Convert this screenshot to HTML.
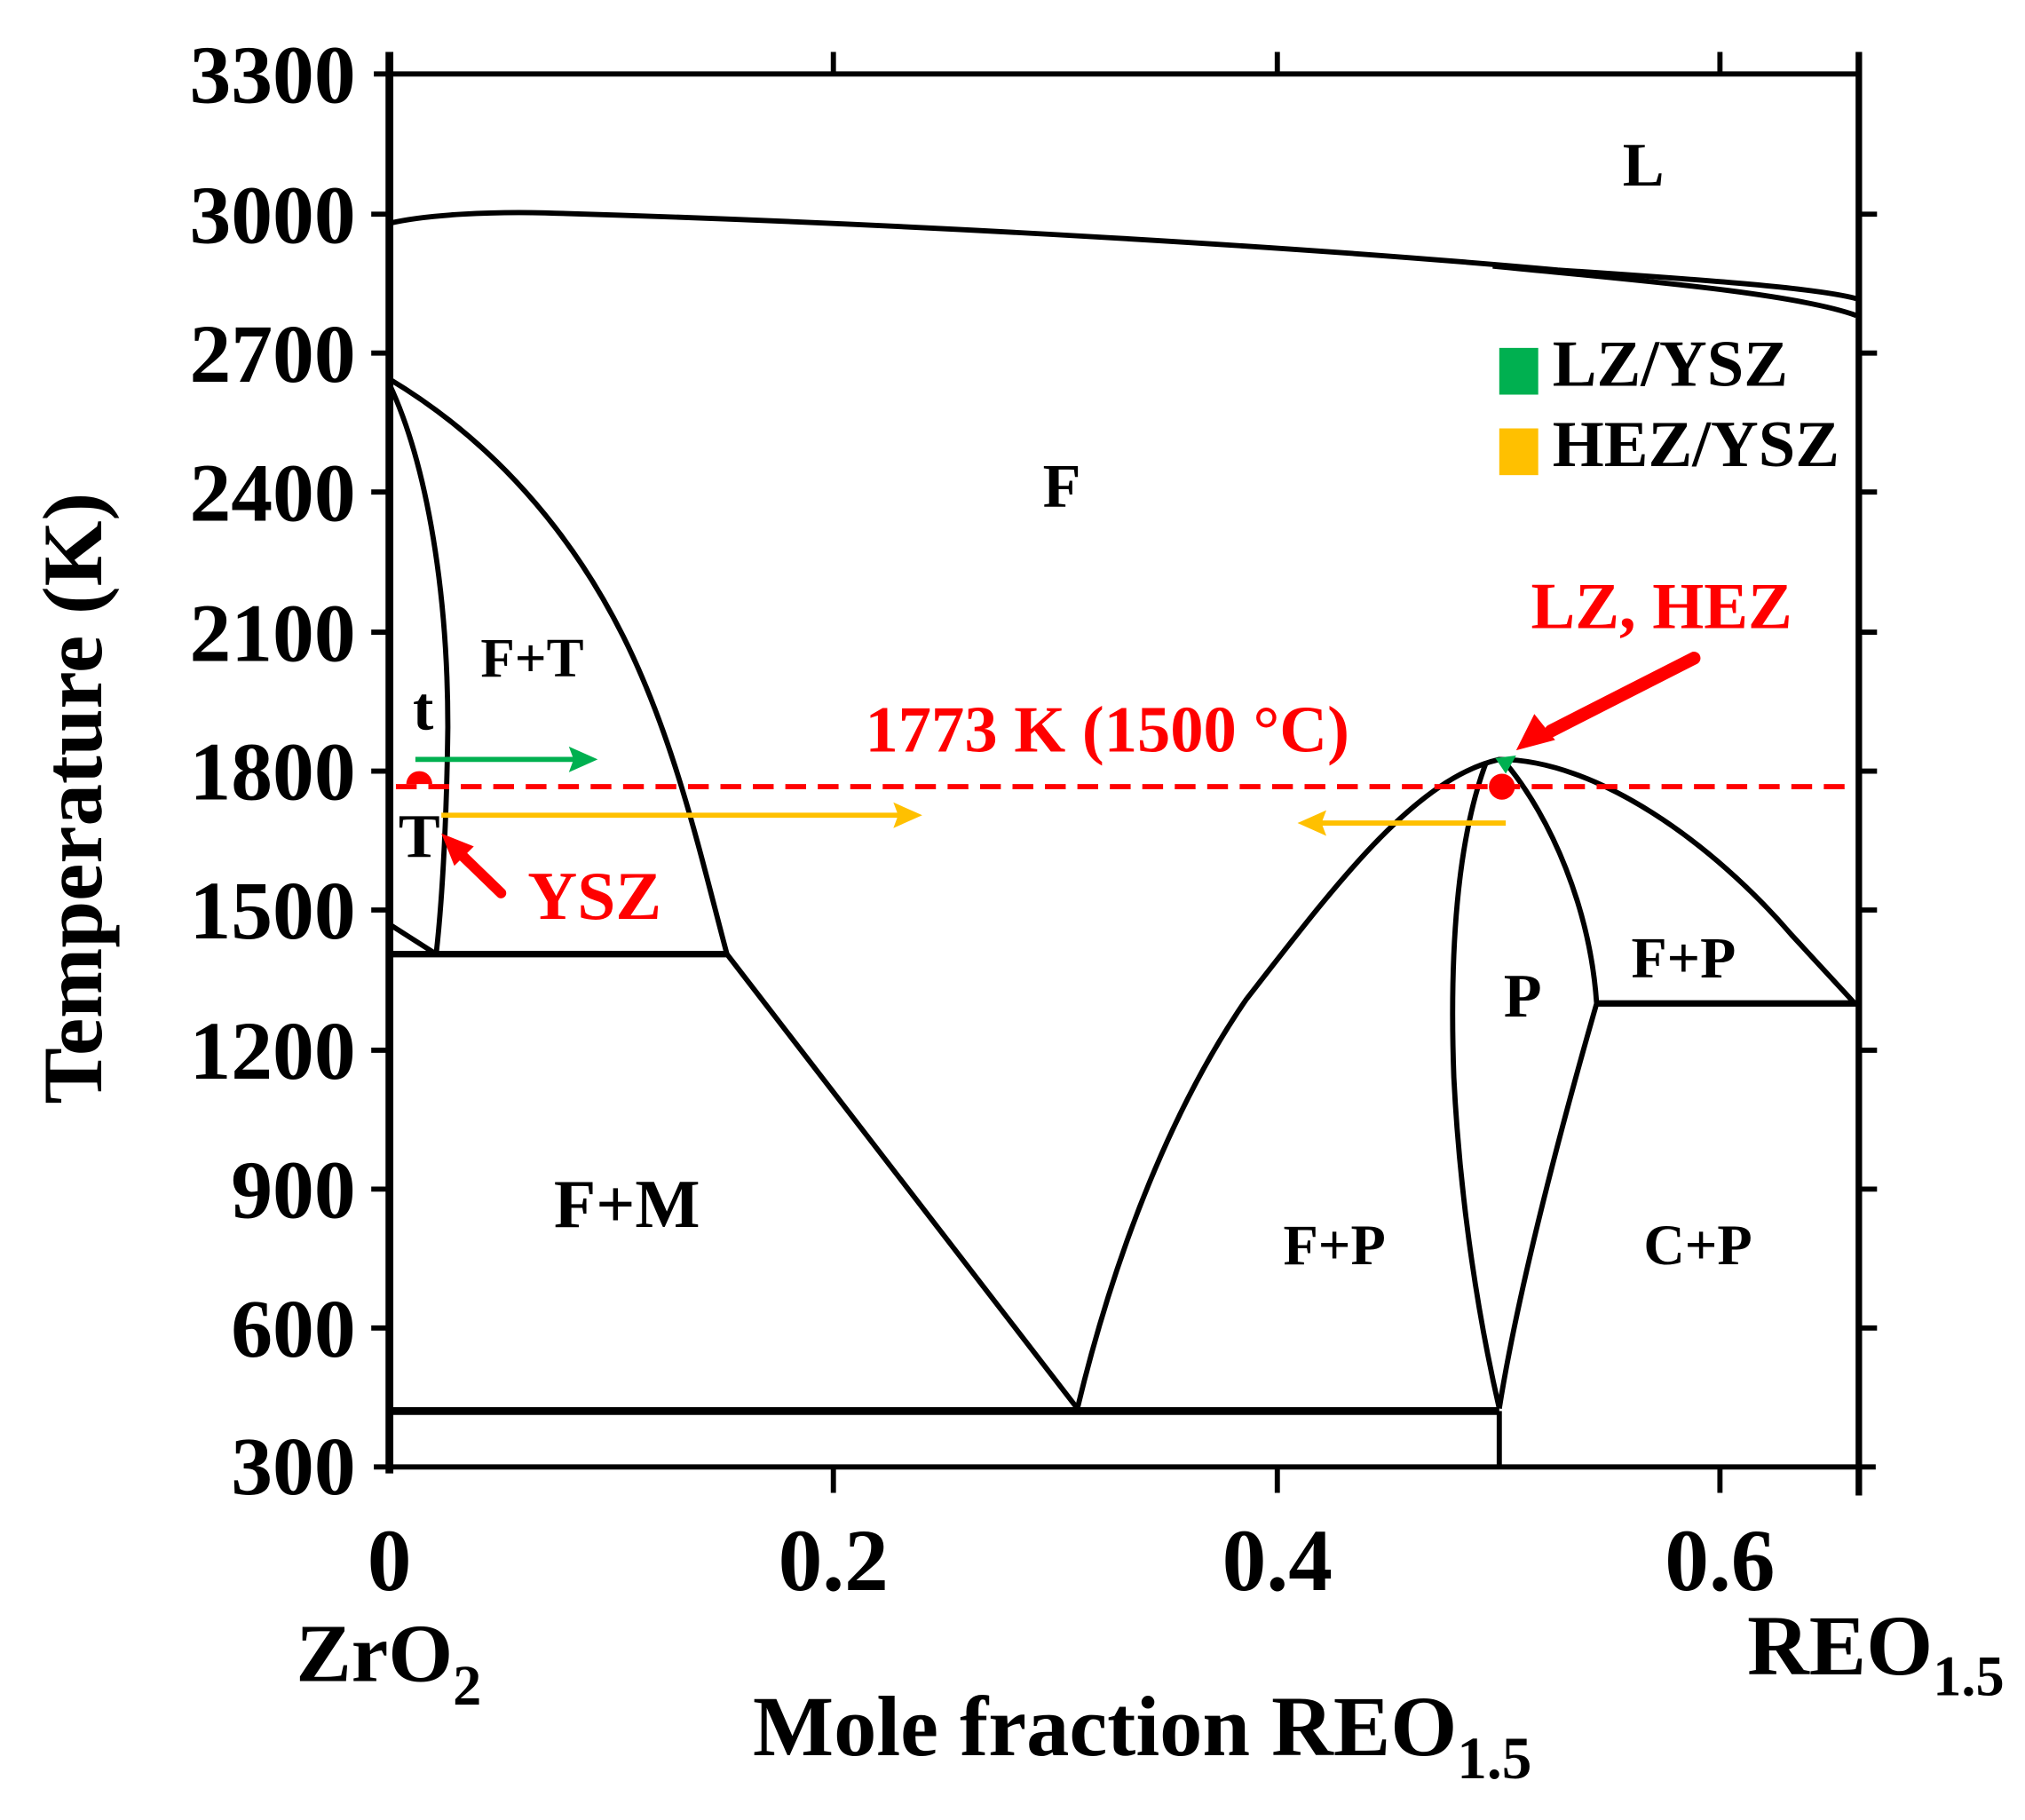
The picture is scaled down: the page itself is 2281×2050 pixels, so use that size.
<!DOCTYPE html>
<html><head><style>html,body{margin:0;padding:0;background:#fff}svg{display:block}</style></head>
<body>
<svg width="2281" height="2050" viewBox="0 0 1560 1402" preserveAspectRatio="none" xmlns="http://www.w3.org/2000/svg" font-family="'Liberation Serif',serif" font-weight="bold">
<rect width="1560" height="1402" fill="#fff"/>
<g stroke="#000" fill="none" stroke-linecap="butt">
<line x1="300" y1="40" x2="300" y2="1135" stroke-width="6"/>
<line x1="1432" y1="40" x2="1432" y2="1152" stroke-width="5"/>
<line x1="288" y1="57" x2="1432" y2="57" stroke-width="4"/>
<line x1="288" y1="1130" x2="1445" y2="1130" stroke-width="4"/>
<g stroke-width="4">
<line x1="286" y1="165" x2="300" y2="165"/><line x1="286" y1="272" x2="300" y2="272"/><line x1="286" y1="379" x2="300" y2="379"/><line x1="286" y1="487" x2="300" y2="487"/><line x1="286" y1="594" x2="300" y2="594"/><line x1="286" y1="701" x2="300" y2="701"/><line x1="286" y1="809" x2="300" y2="809"/><line x1="286" y1="916" x2="300" y2="916"/><line x1="286" y1="1023" x2="300" y2="1023"/>
<line x1="1432" y1="165" x2="1446" y2="165"/><line x1="1432" y1="272" x2="1446" y2="272"/><line x1="1432" y1="379" x2="1446" y2="379"/><line x1="1432" y1="487" x2="1446" y2="487"/><line x1="1432" y1="594" x2="1446" y2="594"/><line x1="1432" y1="701" x2="1446" y2="701"/><line x1="1432" y1="809" x2="1446" y2="809"/><line x1="1432" y1="916" x2="1446" y2="916"/><line x1="1432" y1="1023" x2="1446" y2="1023"/>
<line x1="642" y1="1130" x2="642" y2="1150"/><line x1="984" y1="1130" x2="984" y2="1150"/><line x1="1325" y1="1130" x2="1325" y2="1150"/>
<line x1="642" y1="40" x2="642" y2="57"/><line x1="984" y1="40" x2="984" y2="57"/><line x1="1325" y1="40" x2="1325" y2="57"/>
</g>
<g stroke-width="4">
<path d="M300,172 C330,165 380,163 420,164 C700,172 1000,190 1200,208 C1320,216 1400,222 1430,230"/>
<path d="M1150,205 C1250,215 1380,225 1430,243"/>
<path d="M300,292 C380,340 440,410 480,490 C520,570 540,660 560,735"/>
<path d="M300,296 C330,360 345,460 345,560 C344,640 340,700 336,735"/>
<path d="M300,712 L336,735"/>
<line x1="300" y1="735" x2="560" y2="735" stroke-width="5"/>
<path d="M560,735 L830,1085"/>
<line x1="300" y1="1087" x2="1155" y2="1087" stroke-width="6"/>
<line x1="1155" y1="1087" x2="1155" y2="1130"/>
<path d="M830,1085 C860,960 905,850 960,770 C1030,680 1090,600 1155,585 C1230,585 1320,650 1380,720 L1428,772"/>
<line x1="1230" y1="773" x2="1432" y2="773" stroke-width="5"/>
<path d="M1155,1085 C1140,1020 1125,930 1120,830 C1116,720 1125,640 1145,587"/>
<path d="M1155,1085 C1170,990 1205,860 1230,773 C1225,700 1195,630 1160,588"/>
</g>
</g>
<line x1="305" y1="606" x2="1430" y2="606" stroke="#f00" stroke-width="4" stroke-dasharray="16,9"/>
<g stroke-width="4">
<line x1="320" y1="585" x2="448" y2="585" stroke="#00b050"/><path d="M458,585 L440,577 L443,585 L440,593Z" fill="#00b050" stroke="#00b050" stroke-width="2"/>
<line x1="340" y1="628" x2="698" y2="628" stroke="#ffc000"/><path d="M708,628 L690,620 L693,628 L690,636Z" fill="#ffc000" stroke="#ffc000" stroke-width="2"/>
<line x1="1160" y1="634" x2="1012" y2="634" stroke="#ffc000"/><path d="M1002,634 L1020,626 L1017,634 L1020,642Z" fill="#ffc000" stroke="#ffc000" stroke-width="2"/>
</g>
<path d="M1152,584 L1168,582 L1160,596Z" fill="#00b050"/>
<circle cx="1157" cy="606" r="10" fill="#f00"/>
<path d="M313,604 A10,10 0 0 1 333,604Z" fill="#f00"/>
<line x1="1305" y1="507" x2="1195" y2="563" stroke="#f00" stroke-width="10" stroke-linecap="round"/>
<path d="M1168,578 L1182,550 L1198,570Z" fill="#f00"/>
<line x1="386" y1="688" x2="355" y2="658" stroke="#f00" stroke-width="8" stroke-linecap="round"/>
<path d="M340,642 L365,652 L350,667Z" fill="#f00"/>
<rect x="1155" y="268" width="30" height="36" fill="#00b050"/>
<rect x="1155" y="330" width="30" height="36" fill="#ffc000"/>
<g font-size="64" text-anchor="end">
<text x="274" y="79">3300</text><text x="274" y="187">3000</text><text x="274" y="294">2700</text><text x="274" y="401">2400</text><text x="274" y="509">2100</text><text x="274" y="616">1800</text><text x="274" y="723">1500</text><text x="274" y="831">1200</text><text x="274" y="938">900</text><text x="274" y="1045">600</text><text x="274" y="1151">300</text>
</g>
<g font-size="68" text-anchor="middle">
<text x="300" y="1225">0</text><text x="642" y="1225">0.2</text><text x="984" y="1225">0.4</text><text x="1325" y="1225">0.6</text>
</g>
<text x="228" y="1295" font-size="64">ZrO<tspan font-size="44" dy="18">2</tspan></text>
<text x="1346" y="1290" font-size="66">REO<tspan font-size="44" dy="16">1.5</tspan></text>
<text x="880" y="1352" font-size="66" text-anchor="middle">Mole fraction REO<tspan font-size="46" dy="18">1.5</tspan></text>
<text transform="translate(78,615) rotate(-90)" font-size="65" text-anchor="middle">Temperature (K)</text>
<g font-size="48" text-anchor="middle">
<text x="1266" y="143">L</text><text x="818" y="390">F</text>
<text x="410" y="521" font-size="43">F+T</text>
<text x="326" y="562">t</text><text x="323" y="660">T</text>
<text x="1173" y="783">P</text>
<text x="1297" y="753" font-size="45">F+P</text>
<text x="483" y="945" font-size="53">F+M</text>
<text x="1028" y="974" font-size="44">F+P</text>
<text x="1308" y="974" font-size="44">C+P</text>
</g>
<text x="1196" y="297" font-size="51">LZ/YSZ</text>
<text x="1196" y="359" font-size="51">HEZ/YSZ</text>
<g fill="#f00" font-size="51" text-anchor="middle">
<text x="458" y="708" font-size="53">YSZ</text>
<text x="1280" y="484">LZ, HEZ</text>
<text x="853" y="579">1773 K (1500 °C)</text>
</g>
</svg>
</body></html>
